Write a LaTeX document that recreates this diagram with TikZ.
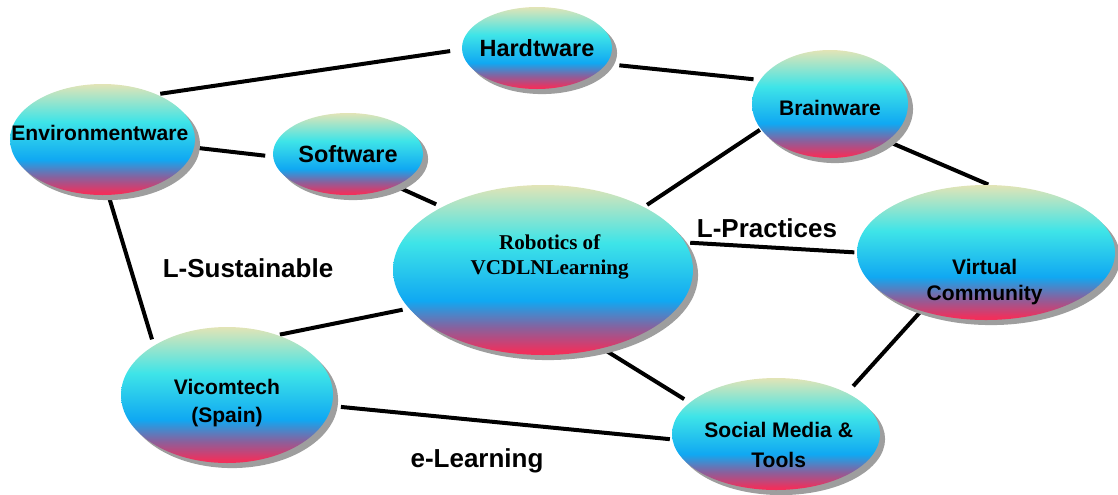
\documentclass[tikz,border=0pt]{standalone}
\usepackage{fontspec}
\setmainfont{Liberation Sans}
\newfontfamily\timesfont{Liberation Serif}
\usetikzlibrary{shapes.geometric,shadows,backgrounds}

\definecolor{ballpale}{HTML}{E2E4B6}
\definecolor{ballcyan}{HTML}{3EE4E8}
\definecolor{ballblue}{HTML}{10A8F2}
\definecolor{ballpurple}{HTML}{8A609C}
\definecolor{ballred}{HTML}{F0305C}
\pgfdeclareverticalshading{ballshade}{100bp}{color(0bp)=(ballred); color(26bp)=(ballred); color(33bp)=(ballpurple); color(41bp)=(ballblue); color(58bp)=(ballcyan); color(75bp)=(ballpale); color(100bp)=(ballpale)}

\begin{document}
\begin{tikzpicture}[x=0.75pt,y=-0.75pt,
  ball/.style={ellipse,shading=ballshade,inner sep=0pt,outer sep=0pt,
    drop shadow={shadow xshift=3.8pt,shadow yshift=-3.8pt,fill=black!38,opacity=1}},
  txt/.style={font=\bfseries\fontsize{15.8}{21}\selectfont,align=center,inner sep=0pt},
  tag/.style={font=\bfseries\fontsize{19.5}{23}\selectfont,inner sep=0pt},
  link/.style={line width=3pt,shorten <=3pt,shorten >=3pt}]
  \useasboundingbox (0,0) rectangle (1118,494);

  % the balls
  \node[ball,minimum width=112.5pt,minimum height=61.5pt] (hw) at (537,48) {};
  \node[ball,minimum width=117pt,minimum height=81pt] (bw) at (830,104) {};
  \node[ball,minimum width=138.75pt,minimum height=83.25pt] (env) at (102.5,139.5) {};
  \node[ball,minimum width=112.5pt,minimum height=61.5pt] (sw) at (348,154) {};
  \node[ball,minimum width=225pt,minimum height=127.5pt] (rob) at (543,270) {};
  \node[ball,minimum width=193.5pt,minimum height=101.25pt] (vc) at (986,252.5) {};
  \node[ball,minimum width=159pt,minimum height=102pt] (vic) at (227,395) {};
  \node[ball,minimum width=156pt,minimum height=84pt] (smt) at (776,434) {};

  % the texts
  \node[txt,font=\bfseries\fontsize{17.6}{21}\selectfont] (hwtxt) at (hw) {Hardtware};
  \node[txt,yshift=-3pt] (bwtxt) at (bw) {Brainware};
  \node[txt,yshift=5pt,xshift=-2pt] (envtxt) at (env) {Environmentware};
  \node[txt,font=\bfseries\fontsize{17.6}{21}\selectfont] (swtxt) at (sw) {Software};
  \node[txt,font=\timesfont\bfseries\fontsize{15.8}{19}\selectfont,xshift=5pt,yshift=10pt] (robtxt) at (rob) {Robotics of\\VCDLNLearning};
  \node[txt,yshift=-22pt,xshift=-1pt,font=\bfseries\fontsize{15.8}{19.5}\selectfont] (vctxt) at (vc) {Virtual\\Community};
  \node[txt,yshift=-6pt] (victxt) at (vic) {Vicomtech\\(Spain)};
  \node[txt,yshift=-8pt,xshift=2pt,font=\bfseries\fontsize{15.8}{22.5}\selectfont] (smttxt) at (smt) {Social Media \&\\Tools};

  \node[tag] (sust) at (248,268) {L-Sustainable};
  \node[tag] (prac) at (767,228) {L-Practices};
  \node[tag] (elearn) at (477,461) {e-Learning};

  % the links
  \begin{scope}[on background layer]
    \draw[link,shorten >=9pt] (env.40) -- (hw.181);
    \draw[link,shorten <=10pt,shorten >=5pt] (hw.-13) -- (bw.161);
    \draw[link,shorten <=2pt,shorten >=6pt] (env.-5) -- (sw.182);
    \draw[link,shorten >=5pt] (sw.-34) -- (rob.148);
    \draw[link,shorten >=1pt] (rob.32) -- (bw.200);
    \draw[link,shorten <=1pt,shorten >=1pt] (bw.-33) -- (vc.87);
    \draw[link,shorten <=4pt,shorten >=2pt] (rob.11) -- (vc.180);
    \draw[link,shorten >=5pt] (env.-84) -- (vic.146);
    \draw[link,shorten <=2pt,shorten >=5pt] (vic.50) -- (rob.196);
    \draw[link,shorten >=5pt] (rob.-53) -- (smt.160);
    \draw[link,shorten <=7pt,shorten >=2pt] (vic.-6) -- (smt.183);
    \draw[link,shorten <=7pt,shorten >=2pt] (smt.30) -- (vc.222);
  \end{scope}
\end{tikzpicture}
\end{document}
